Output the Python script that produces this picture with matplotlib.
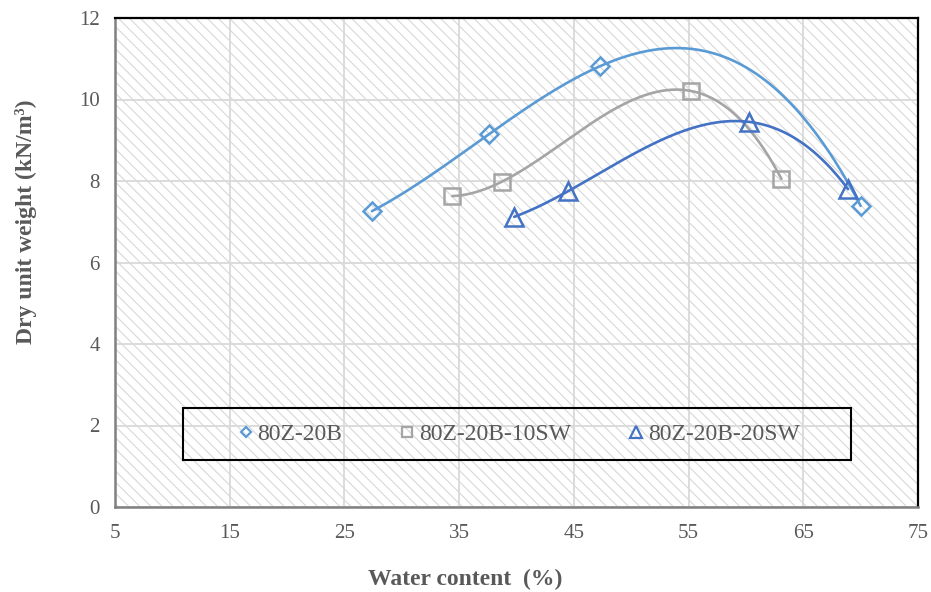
import numpy as np
import matplotlib
matplotlib.use("Agg")
import matplotlib.pyplot as plt
from matplotlib.lines import Line2D
from matplotlib.patches import Rectangle

plt.rcParams['font.family'] = ['Liberation Serif', 'DejaVu Serif']
plt.rcParams['hatch.linewidth'] = 0.8

# data
w_a = [27.4, 37.6, 47.3, 70.0]
d_a = [7.26, 9.15, 10.82, 7.39]
w_b = [34.4, 38.7, 55.2, 63.1]
d_b = [7.63, 7.98, 10.21, 8.05]
w_c = [39.8, 44.5, 60.3, 68.9]
d_c = [7.12, 7.75, 9.45, 7.80]
names = ['80Z-20B', '80Z-20B-10SW', '80Z-20B-20SW']
colors = ['#5B9BD5', '#A5A5A5', '#4472C4']
markers = ['D', 's', '^']
msizes = [9, 11.5, 12.5]

xticks = [5, 15, 25, 35, 45, 55, 65, 75]
yticks = [0, 2, 4, 6, 8, 10, 12]
txt = '#595959'

fig = plt.figure(figsize=(9.31, 5.92), dpi=100)
ax = fig.add_axes([115 / 931, 1 - 507 / 592, 803 / 931, 489 / 592])

# hatched plot area
ax.add_patch(Rectangle((0, 0), 1, 1, transform=ax.transAxes, facecolor='white',
                       edgecolor='#d8d8d8', hatch='\\\\\\', lw=0, zorder=0))

series = [(w_a, d_a), (w_b, d_b), (w_c, d_c)]
for (xw, yd), c, m, ms in zip(series, colors, markers, msizes):
    # 3rd order polynomial trend line over the data range
    coef = np.polyfit(xw, yd, 3)
    xs = np.linspace(min(xw), max(xw), 300)
    ax.plot(xs, np.polyval(coef, xs), color=c, lw=1.9, zorder=3,
            solid_capstyle='round')
    ax.plot(xw, yd, ls='none', marker=m, ms=ms, mfc='none', mec=c, mew=1.8, zorder=4)

ax.set_xlim(5, 75)
ax.set_ylim(0, 12)
ax.set_xticks(xticks)
ax.set_yticks(yticks)
ax.grid(True, color='#d9d9d9', lw=1.3, zorder=1)
ax.set_axisbelow(True)
ax.tick_params(length=0, labelsize=15, colors=txt)
ax.tick_params(axis='x', pad=12)
ax.tick_params(axis='y', pad=11)

for s in ['top', 'right']:
    ax.spines[s].set_color('black')
    ax.spines[s].set_linewidth(1.6)
for s in ['left', 'bottom']:
    ax.spines[s].set_color('#808080')
    ax.spines[s].set_linewidth(1.8)
for s in ax.spines.values():
    s.set_zorder(5)

ax.set_xlabel('Water content  (%)', fontsize=17, fontweight='bold', color=txt)
ax.set_ylabel('Dry unit weight (kN/m³)', fontsize=17, fontweight='bold', color=txt)
ax.xaxis.set_label_coords(0.436, -0.127)
ax.yaxis.set_label_coords(-0.097, 0.583)

handles = [Line2D([], [], ls='none', marker=m, ms=s, mfc='none', mec=c, mew=1.6)
           for m, c, s in zip(markers, colors, [5.4, 7.2, 8.2])]
leg = ax.legend(handles, names, ncol=3, loc='center',
                bbox_to_anchor=(70 / 803, 47 / 489, 668 / 803, 52 / 489),
                frameon=False, fontsize=17, handlelength=0.6, handletextpad=0.2,
                columnspacing=2.45, borderaxespad=0)
for t in leg.get_texts():
    t.set_color(txt)
leg.set_zorder(6)
# legend box as drawn in the chart
ax.add_patch(Rectangle((68 / 803, 47 / 489), 668 / 803, 52 / 489, transform=ax.transAxes,
                       facecolor='none', edgecolor='black', lw=1.5, zorder=6))

fig.savefig('out.png', dpi=100)
